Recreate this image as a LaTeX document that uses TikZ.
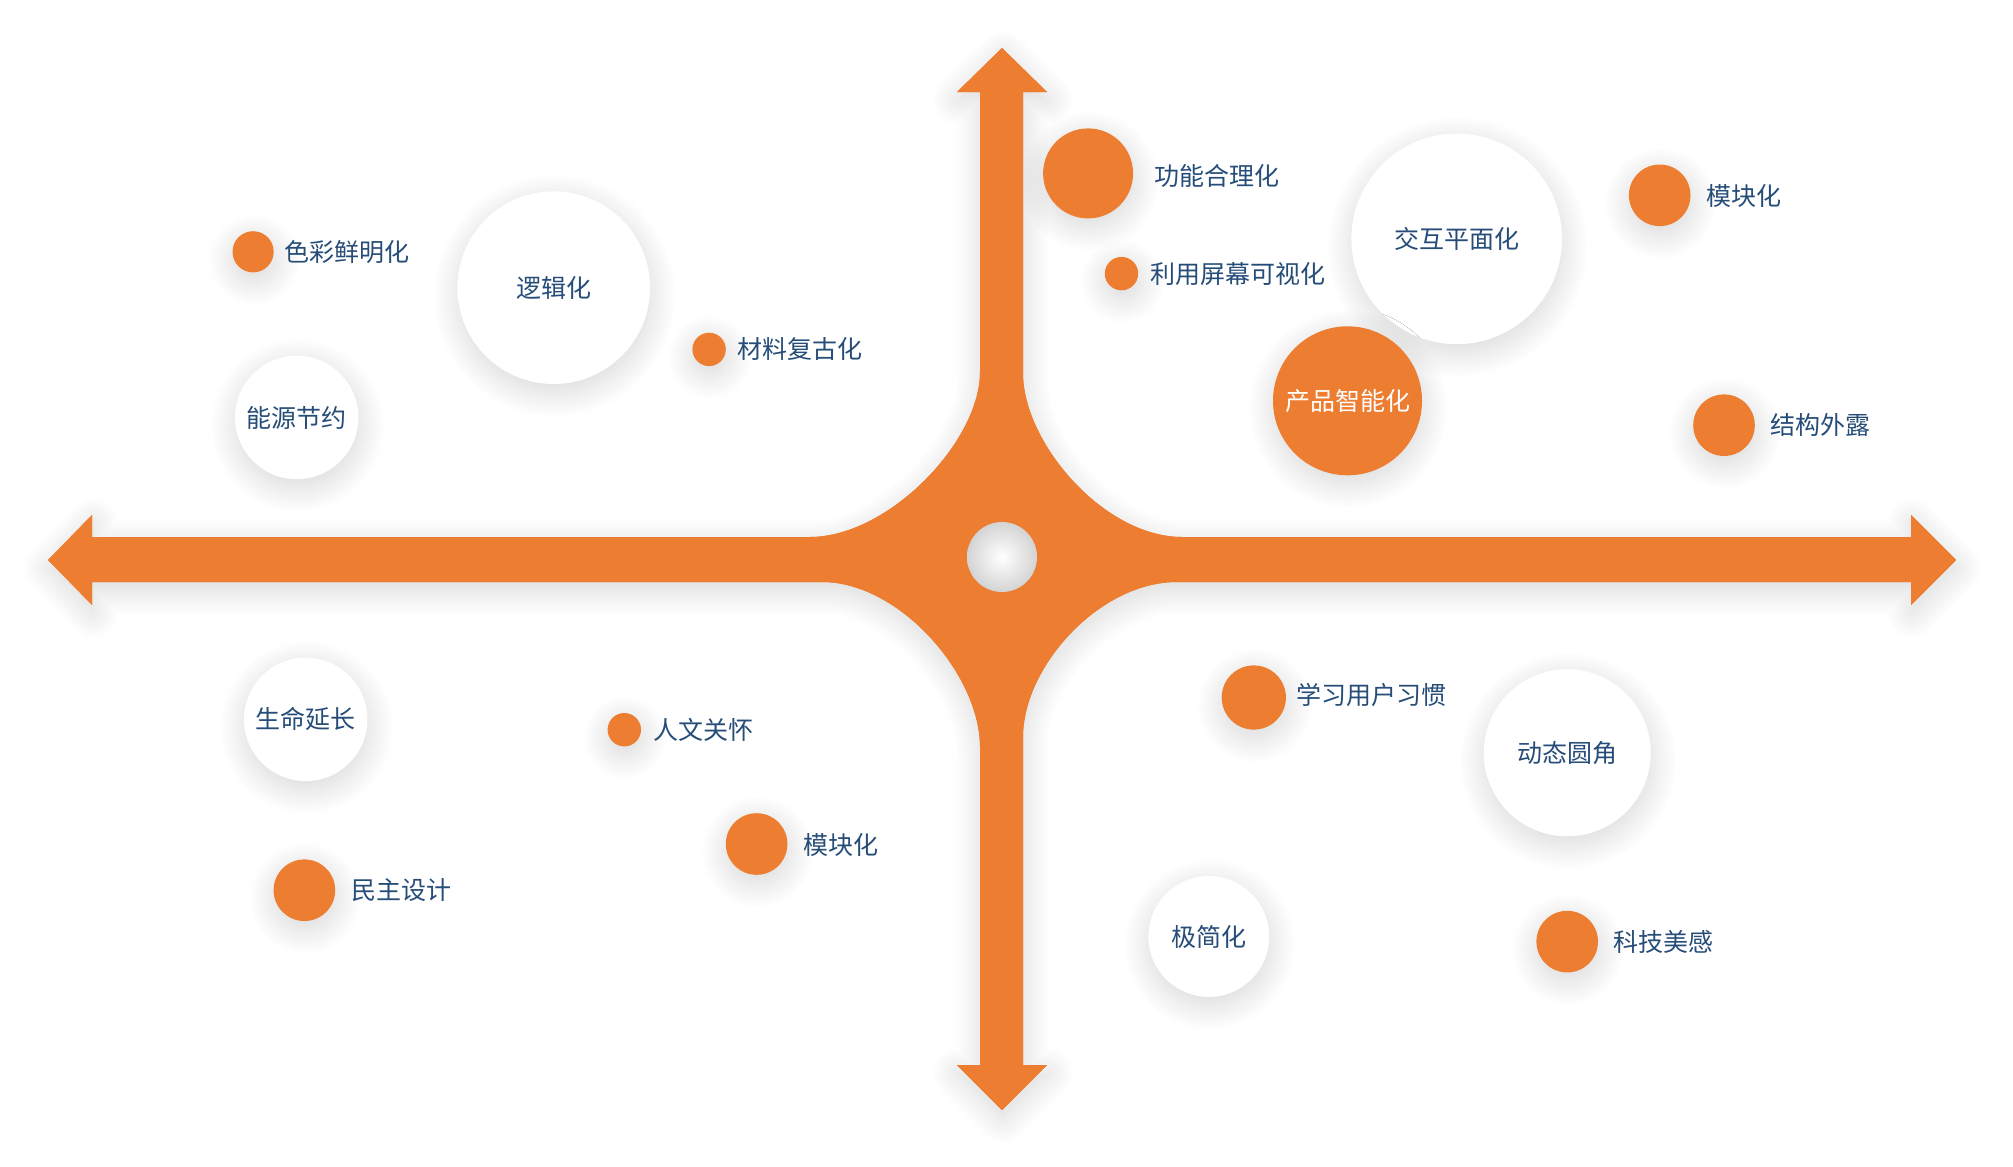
\documentclass[tikz,border=0pt]{standalone}
\usepackage{fontspec}
\setmainfont{Noto Sans CJK SC}
\usetikzlibrary{shadows.blur}
\definecolor{orng}{RGB}{237,125,49}
\definecolor{txtblue}{RGB}{38,76,120}
\tikzset{
    SH1/.style ={blur shadow={shadow blur radius=13pt, shadow blur steps=25, shadow xshift=0.5pt, shadow yshift=-4pt, shadow opacity=16}},
    OC1/.style ={circle, inner sep=0pt, minimum size=#1, fill=orng, SH1},
    WC1/.style ={circle, inner sep=0pt, minimum size=#1, fill=white, SH1, text=txtblue},
    TX1/.style ={anchor=west, inner sep=0pt, text=txtblue}
}

\begin{document}
\begin{tikzpicture}[x=0.5pt,y=-0.5pt,font=\fontsize{12.5}{15}\selectfont]
        \useasboundingbox (0,0) rectangle (2013,1167);
        % cross of arrows
        \fill[orng,SH1,save path=\crossp] (1002,48) -- (1047,92) -- (1023,92) -- (1023,373)
            .. controls (1023,443) and (1104,537) .. (1182,537) -- (1911,537) -- (1911,515)
            -- (1956,560) -- (1911,605) -- (1911,582) -- (1177,582)
            .. controls (1099,582) and (1023,667) .. (1023,737) -- (1023,1065) -- (1047,1065)
            -- (1002,1110) -- (957,1065) -- (980,1065) -- (980,747)
            .. controls (980,675) and (900,582) .. (822,582) -- (92,582) -- (92,605)
            -- (48,560) -- (92,515) -- (92,537) -- (810,537)
            .. controls (888,537) and (980,442) .. (980,372) -- (980,92) -- (957,92) -- cycle;
        % white circles
        \node[WC1=96.3pt] (logic) at(553.7,287.7) {逻辑化};
        \node[WC1=61.7pt] (energy) at(296.7,417.5) {能源节约};
        \node[WC1=105.3pt] (flat) at(1456.7,238.9) {交互平面化};
        \node[WC1=61.7pt] (life) at(305.7,719.4) {生命延长};
        \node[WC1=83.5pt] (corner) at(1567.2,752.8) {动态圆角};
        \node[WC1=60.4pt] (mini) at(1208.8,936.5) {极简化};
        % orange circles
        \node[OC1=45pt] (func) at(1088.1,173.4) {};
        \node[OC1=16.7pt] (screen) at(1121.5,273.6) {};
        \node[OC1=74.5pt, text=white] (smart) at(1347.5,400.8) {产品智能化};
        \node[OC1=30.8pt] (modA) at(1659.7,195.3) {};
        \node[OC1=30.8pt] (struct) at(1724,425.2) {};
        \node[OC1=20.6pt] (color) at(253.1,251.8) {};
        \node[OC1=16.7pt] (retro) at(709.1,349.4) {};
        \node[OC1=16.7pt] (human) at(624.3,729.7) {};
        \node[OC1=30.8pt] (modB) at(756.6,844) {};
        \node[OC1=30.8pt] (demo) at(304.4,890.2) {};
        \node[OC1=32.1pt] (habit) at(1253.8,697.5) {};
        \node[OC1=30.8pt] (tech) at(1567.2,941.6) {};
        % cross again over the shadows, and its hole
        \path[fill=orng,use path=\crossp];
        \shade[inner color=white, outer color=black!17] (1002,557) circle (35);
        % labels
        \node[TX1] (funcT) at(1153.6,176) {功能合理化};
        \node[TX1] (screenT) at(1149.7,273.6) {利用屏幕可视化};
        \node[TX1] (modAT) at(1706,196.5) {模块化};
        \node[TX1] (structT) at(1770.2,425.2) {结构外露};
        \node[TX1] (colorT) at(283.9,251.8) {色彩鲜明化};
        \node[TX1] (retroT) at(737.4,349.4) {材料复古化};
        \node[TX1] (humanT) at(652.6,729.7) {人文关怀};
        \node[TX1] (modBT) at(802.9,845.3) {模块化};
        \node[TX1] (demoT) at(350.7,890.2) {民主设计};
        \node[TX1] (habitT) at(1296.2,695) {学习用户习惯};
        \node[TX1] (techT) at(1613.5,941.6) {科技美感};
    \end{tikzpicture}
\end{document}
